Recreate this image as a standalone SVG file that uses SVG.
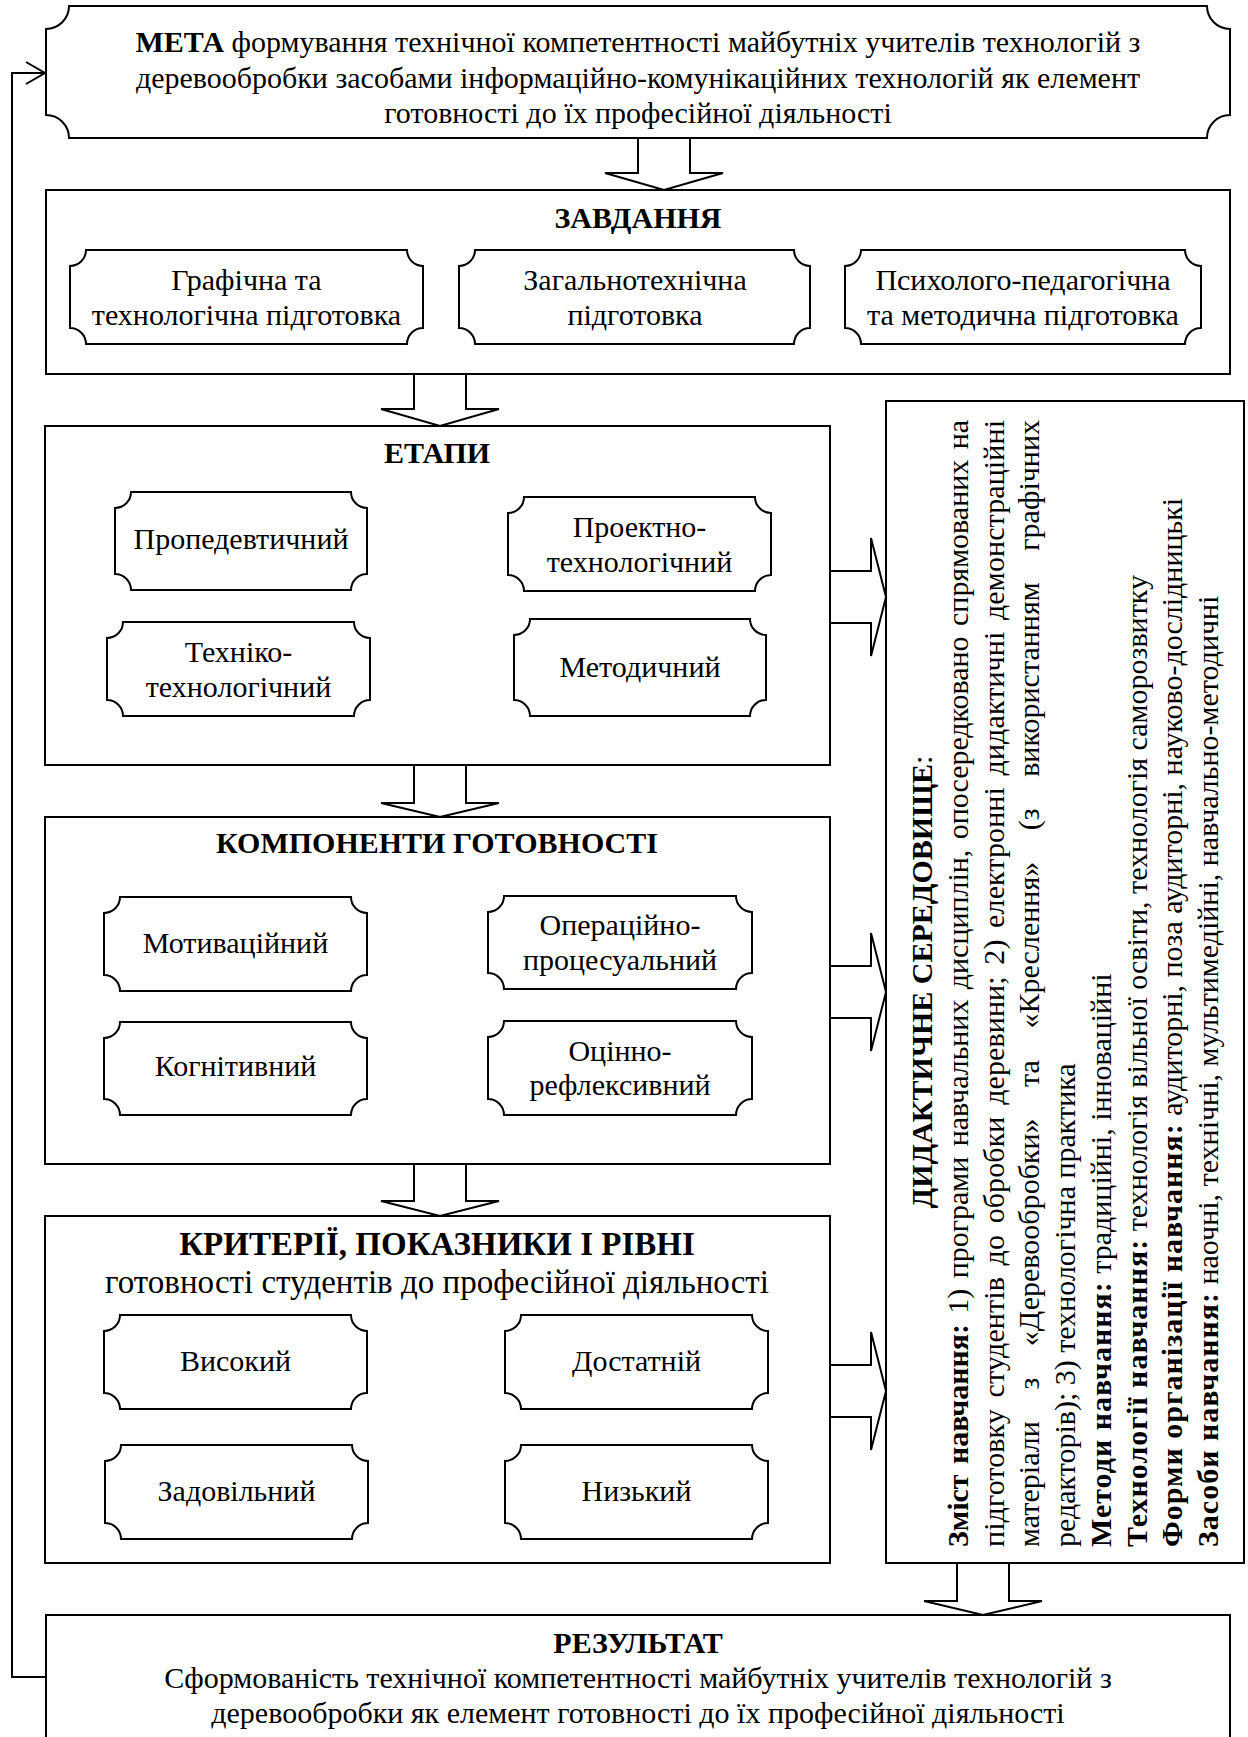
<svg xmlns="http://www.w3.org/2000/svg" width="1248" height="1737" viewBox="0 0 1248 1737">
<style>
.box{fill:#fff;stroke:#000;stroke-width:2}
.pl{fill:#fff;stroke:#000;stroke-width:2}
.arr{fill:#fff;stroke:#000;stroke-width:2;stroke-linejoin:miter}
.ln{fill:none;stroke:#000;stroke-width:2}
text{font-family:"Liberation Serif","Times New Roman",serif;font-size:30px;fill:#000}
.c{text-anchor:middle}
.b{font-weight:bold}
.bs{font-weight:bold;letter-spacing:1px}
.big{font-size:33px}
</style>
<rect width="1248" height="1737" fill="#fff"/>

<g id="connectors">
  <polyline class="ln" points="46,1677 12,1677 12,73 44,73"/>
  <path class="ln" d="M26,62 L45,73 L26,84"/>
  <polygon class="arr" points="638,138 690,138 690,173 723,173 664,190 605,173 638,173"/>
  <polygon class="arr" points="414,374 466,374 466,409 499,409 440,426 381,409 414,409"/>
  <polygon class="arr" points="414,765 466,765 466,803 499,803 440,817 381,803 414,803"/>
  <polygon class="arr" points="414,1164 466,1164 466,1201 499,1201 440,1216 381,1201 414,1201"/>
  <polygon class="arr" points="957,1563 1009,1563 1009,1601 1042,1601 983,1615 924,1601 957,1601"/>
  <polygon class="arr" points="830,571 871,571 871,538 886,597 871,656 871,623 830,623"/>
  <polygon class="arr" points="830,966 871,966 871,933 886,992 871,1051 871,1018 830,1018"/>
  <polygon class="arr" points="830,1365 871,1365 871,1332 886,1391 871,1450 871,1417 830,1417"/>
</g>

<g id="meta">
  <path class="pl" d="M69,6 H1207 A23 23 0 0 0 1230,29 V115 A23 23 0 0 0 1207,138 H69 A23 23 0 0 0 46,115 V29 A23 23 0 0 0 69,6 Z"/>
  <text class="c" x="638" y="52"><tspan class="b">МЕТА</tspan> формування технічної компетентності майбутніх учителів технологій з</text>
  <text class="c" x="638" y="88">деревообробки засобами інформаційно-комунікаційних технологій як елемент</text>
  <text class="c" x="638" y="123">готовності до їх професійної діяльності</text>
</g>

<g id="zavdannia">
  <rect class="box" x="46" y="190" width="1184" height="184"/>
  <text class="c b" x="638" y="228">ЗАВДАННЯ</text>
</g>
<g id="z1">
  <path class="pl" d="M86,250 H407 A16 16 0 0 0 423,266 V328 A16 16 0 0 0 407,344 H86 A16 16 0 0 0 70,328 V266 A16 16 0 0 0 86,250 Z"/>
  <text class="c" x="246.5" y="290">Графічна та</text>
  <text class="c" x="246.5" y="325">технологічна підготовка</text>
</g>
<g id="z2">
  <path class="pl" d="M475,250 H794 A16 16 0 0 0 810,266 V328 A16 16 0 0 0 794,344 H475 A16 16 0 0 0 459,328 V266 A16 16 0 0 0 475,250 Z"/>
  <text class="c" x="635" y="290">Загальнотехнічна</text>
  <text class="c" x="635" y="325">підготовка</text>
</g>
<g id="z3">
  <path class="pl" d="M861,250 H1185 A16 16 0 0 0 1201,266 V328 A16 16 0 0 0 1185,344 H861 A16 16 0 0 0 845,328 V266 A16 16 0 0 0 861,250 Z"/>
  <text class="c" x="1023" y="290">Психолого-педагогічна</text>
  <text class="c" x="1023" y="325">та методична підготовка</text>
</g>

<g id="etapy">
  <rect class="box" x="45" y="426" width="785" height="339"/>
  <text class="c b" x="437" y="463">ЕТАПИ</text>
</g>
<g id="e1">
  <path class="pl" d="M131,492 H351 A16 16 0 0 0 367,508 V574 A16 16 0 0 0 351,590 H131 A16 16 0 0 0 115,574 V508 A16 16 0 0 0 131,492 Z"/>
  <text class="c" x="241" y="549">Пропедевтичний</text>
</g>
<g id="e2">
  <path class="pl" d="M524,497 H755 A16 16 0 0 0 771,513 V575 A16 16 0 0 0 755,591 H524 A16 16 0 0 0 508,575 V513 A16 16 0 0 0 524,497 Z"/>
  <text class="c" x="639.5" y="537">Проектно-</text>
  <text class="c" x="639.5" y="572">технологічний</text>
</g>
<g id="e3">
  <path class="pl" d="M123,622 H354 A16 16 0 0 0 370,638 V700 A16 16 0 0 0 354,716 H123 A16 16 0 0 0 107,700 V638 A16 16 0 0 0 123,622 Z"/>
  <text class="c" x="238.5" y="662">Техніко-</text>
  <text class="c" x="238.5" y="697">технологічний</text>
</g>
<g id="e4">
  <path class="pl" d="M530,619 H750 A16 16 0 0 0 766,635 V700 A16 16 0 0 0 750,716 H530 A16 16 0 0 0 514,700 V635 A16 16 0 0 0 530,619 Z"/>
  <text class="c" x="640" y="677">Методичний</text>
</g>

<g id="komponenty">
  <rect class="box" x="45" y="817" width="785" height="347"/>
  <text class="c b" x="437" y="853">КОМПОНЕНТИ ГОТОВНОСТІ</text>
</g>
<g id="k1">
  <path class="pl" d="M120,897 H351 A16 16 0 0 0 367,913 V975 A16 16 0 0 0 351,991 H120 A16 16 0 0 0 104,975 V913 A16 16 0 0 0 120,897 Z"/>
  <text class="c" x="235.5" y="953">Мотиваційний</text>
</g>
<g id="k2">
  <path class="pl" d="M504,896 H736 A16 16 0 0 0 752,912 V973 A16 16 0 0 0 736,989 H504 A16 16 0 0 0 488,973 V912 A16 16 0 0 0 504,896 Z"/>
  <text class="c" x="620" y="935">Операційно-</text>
  <text class="c" x="620" y="970">процесуальний</text>
</g>
<g id="k3">
  <path class="pl" d="M120,1022 H351 A16 16 0 0 0 367,1038 V1099 A16 16 0 0 0 351,1115 H120 A16 16 0 0 0 104,1099 V1038 A16 16 0 0 0 120,1022 Z"/>
  <text class="c" x="235.5" y="1076">Когнітивний</text>
</g>
<g id="k4">
  <path class="pl" d="M504,1021 H736 A16 16 0 0 0 752,1037 V1099 A16 16 0 0 0 736,1115 H504 A16 16 0 0 0 488,1099 V1037 A16 16 0 0 0 504,1021 Z"/>
  <text class="c" x="620" y="1061">Оцінно-</text>
  <text class="c" x="620" y="1095">рефлексивний</text>
</g>

<g id="kryterii">
  <rect class="box" x="45" y="1216" width="785" height="347"/>
  <text class="c b big" x="437" y="1255">КРИТЕРІЇ, ПОКАЗНИКИ І РІВНІ</text>
  <text class="c big" x="437" y="1293">готовності студентів до професійної діяльності</text>
</g>
<g id="c1">
  <path class="pl" d="M120,1315 H351 A16 16 0 0 0 367,1331 V1393 A16 16 0 0 0 351,1409 H120 A16 16 0 0 0 104,1393 V1331 A16 16 0 0 0 120,1315 Z"/>
  <text class="c" x="235.5" y="1371">Високий</text>
</g>
<g id="c2">
  <path class="pl" d="M521,1315 H752 A16 16 0 0 0 768,1331 V1393 A16 16 0 0 0 752,1409 H521 A16 16 0 0 0 505,1393 V1331 A16 16 0 0 0 521,1315 Z"/>
  <text class="c" x="636.5" y="1371">Достатній</text>
</g>
<g id="c3">
  <path class="pl" d="M121,1445 H352 A16 16 0 0 0 368,1461 V1523 A16 16 0 0 0 352,1539 H121 A16 16 0 0 0 105,1523 V1461 A16 16 0 0 0 121,1445 Z"/>
  <text class="c" x="236.5" y="1501">Задовільний</text>
</g>
<g id="c4">
  <path class="pl" d="M521,1445 H752 A16 16 0 0 0 768,1461 V1523 A16 16 0 0 0 752,1539 H521 A16 16 0 0 0 505,1523 V1461 A16 16 0 0 0 521,1445 Z"/>
  <text class="c" x="636.5" y="1501">Низький</text>
</g>

<g id="seredovyshche">
  <rect class="box" x="886" y="401" width="358" height="1162"/>
  <g transform="rotate(-90)">
    <text class="c" x="-982" y="932"><tspan class="b">ДИДАКТИЧНЕ СЕРЕДОВИЩЕ</tspan>:</text>
    <text x="-1547" y="968" word-spacing="3" textLength="1127" lengthAdjust="spacing"><tspan class="b">Зміст навчання:</tspan> 1) програми навчальних дисциплін, опосередковано спрямованих на</text>
    <text x="-1547" y="1004" word-spacing="4" textLength="1127" lengthAdjust="spacing">підготовку студентів до обробки деревини; 2) електронні дидактичні демонстраційні</text>
    <text x="-1547" y="1039" word-spacing="24" textLength="1127" lengthAdjust="spacing">матеріали з «Деревообробки» та «Креслення» (з використанням графічних</text>
    <text x="-1547" y="1075">редакторів); 3) технологічна практика</text>
    <text x="-1547" y="1111"><tspan class="bs">Методи навчання:</tspan> традиційні, інноваційні</text>
    <text x="-1547" y="1147"><tspan class="bs">Технології навчання:</tspan> технологія вільної освіти, технологія саморозвитку</text>
    <text x="-1547" y="1182"><tspan class="bs">Форми організації навчання:</tspan> аудиторні, поза аудиторні, науково-дослідницькі</text>
    <text x="-1547" y="1218"><tspan class="bs">Засоби навчання:</tspan> наочні, технічні, мультимедійні, навчально-методичні</text>
  </g>
</g>

<g id="rezultat">
  <rect class="box" x="46" y="1615" width="1184" height="140"/>
  <text class="c b" x="638" y="1653">РЕЗУЛЬТАТ</text>
  <text class="c" x="638" y="1688">Сформованість технічної компетентності майбутніх учителів технологій з</text>
  <text class="c" x="638" y="1723">деревообробки як елемент готовності до їх професійної діяльності</text>
</g>
</svg>
